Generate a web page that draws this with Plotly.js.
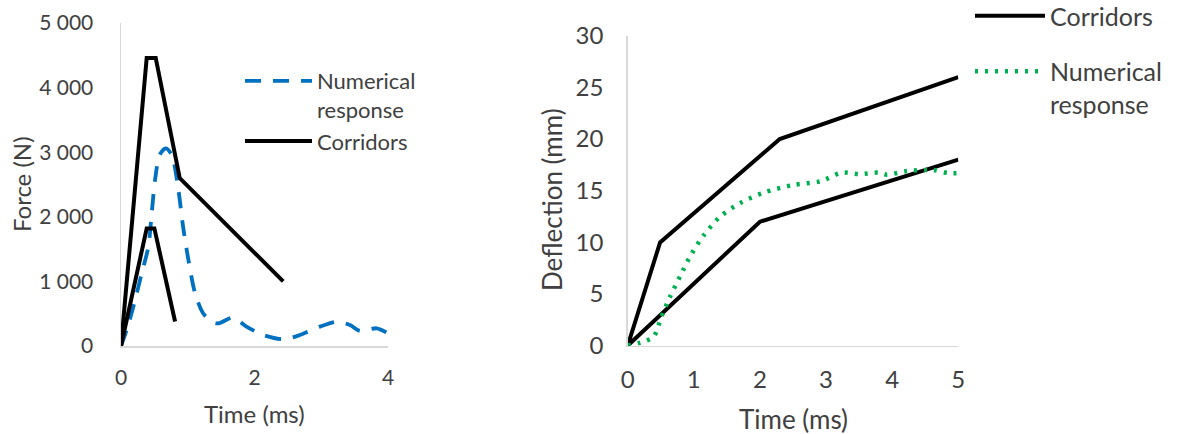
<!DOCTYPE html>
<html>
<head>
<meta charset="utf-8">
<script src="https://cdn.plot.ly/plotly-3.0.1.min.js"></script>
<style>html,body{margin:0;padding:0;background:#fff}#chart{width:1180px;height:434px}</style>
</head>
<body>
<div id="chart"></div>
<script>
// ---- Left chart: Force vs Time ----
const forceNumX = [0, 0.085, 0.185, 0.31, 0.41, 0.46, 0.51, 0.58, 0.67, 0.76, 0.86, 0.93, 1.01, 1.11, 1.23, 1.36, 1.46, 1.68, 1.88, 2.13, 2.43, 2.68, 2.98, 3.23, 3.43, 3.58, 3.83, 4.0];
const forceNumY = [0, 248, 608, 1125, 1537, 2054, 2570, 2957, 3060, 2957, 2415, 1847, 1331, 816, 506, 376, 351, 440, 300, 170, 104, 170, 300, 376, 325, 232, 274, 196];
const forceUpperX = [0, 0.385, 0.52, 0.88, 2.43];
const forceUpperY = [0, 4460, 4460, 2600, 1000];
const forceLowerX = [0, 0.385, 0.5, 0.81];
const forceLowerY = [0, 1820, 1820, 380];
const forceTickVals = [0, 1000, 2000, 3000, 4000, 5000];
const forceTickText = ['0', '1 000', '2 000', '3 000', '4 000', '5 000'];
const timeTicksLeft = [0, 2, 4];

// ---- Right chart: Deflection vs Time ----
const deflNumX = [0, 0.19, 0.39, 0.51, 0.64, 0.79, 0.94, 1.14, 1.40, 1.70, 2.05, 2.50, 2.91, 3.24, 3.51, 3.79, 3.92, 4.22, 4.62, 4.85, 5.0];
const deflNumY = [0, 0.3, 0.87, 2.8, 4.74, 6.68, 8.6, 10.6, 12.5, 13.8, 14.8, 15.55, 15.9, 16.75, 16.6, 16.75, 16.55, 16.9, 17.0, 16.7, 16.7];
const deflUpperX = [0, 0.49, 2.3, 5];
const deflUpperY = [0, 10, 20, 26];
const deflLowerX = [0, 2, 5];
const deflLowerY = [0, 12, 18];
const deflTickVals = [0, 5, 10, 15, 20, 25, 30];
const timeTicksRight = [0, 1, 2, 3, 4, 5];

const names = {num: 'Numerical<br>response', cor: 'Corridors'};
const textColor = '#404040';
const FONT = 'Lato, "Open Sans", sans-serif';

function joinGap(ax, ay, bx, by) {
  return {x: ax.concat([null], bx), y: ay.concat([null], by)};
}
const leftCor = joinGap(forceUpperX, forceUpperY, forceLowerX, forceLowerY);
const rightCor = joinGap(deflUpperX, deflUpperY, deflLowerX, deflLowerY);

const traces = [
  {x: forceNumX, y: forceNumY, type: 'scatter', mode: 'lines', name: names.num,
   line: {color: '#0070C0', width: 3.8, dash: '16px,12px', shape: 'spline', smoothing: 0.8},
   xaxis: 'x', yaxis: 'y', legend: 'legend', legendgroup: 'a'},
  {x: leftCor.x, y: leftCor.y, type: 'scatter', mode: 'lines', name: names.cor,
   line: {color: '#000000', width: 4}, connectgaps: false,
   xaxis: 'x', yaxis: 'y', legend: 'legend', legendgroup: 'b'},
  {x: rightCor.x, y: rightCor.y, type: 'scatter', mode: 'lines', name: names.cor,
   line: {color: '#000000', width: 4}, connectgaps: false,
   xaxis: 'x2', yaxis: 'y2', legend: 'legend2', legendgroup: 'c'},
  {x: deflNumX, y: deflNumY, type: 'scatter', mode: 'lines', name: names.num,
   line: {color: '#00B050', width: 4.5, dash: '3px,7px', shape: 'spline', smoothing: 0.8},
   xaxis: 'x2', yaxis: 'y2', legend: 'legend2', legendgroup: 'd'}
];

const W = 1180, H = 434;
const axCommon = {
  showgrid: false, zeroline: false, showline: true, linecolor: '#D9D9D9', linewidth: 1.5,
  ticks: 'outside', tickcolor: 'rgba(0,0,0,0)', fixedrange: true
};

const layout = {
  width: W, height: H,
  margin: {l: 0, r: 0, t: 0, b: 0, autoexpand: false},
  paper_bgcolor: '#ffffff', plot_bgcolor: '#ffffff',
  font: {family: FONT, color: textColor},
  showlegend: true,
  xaxis: Object.assign({}, axCommon, {
    domain: [121 / W, 388 / W], range: [0, 4], tickvals: timeTicksLeft,
    ticklen: 12, tickfont: {size: 21, color: textColor}, anchor: 'y'
  }),
  yaxis: Object.assign({}, axCommon, {
    domain: [1 - 346 / H, 1 - 23 / H], range: [0, 5000], tickvals: forceTickVals, ticktext: forceTickText,
    ticklen: 22, tickfont: {size: 21, color: textColor}, anchor: 'x'
  }),
  xaxis2: Object.assign({}, axCommon, {
    domain: [627.7 / W, 958.3 / W], range: [0, 5], tickvals: timeTicksRight,
    ticklen: 12, tickfont: {size: 24, color: textColor}, anchor: 'y2'
  }),
  yaxis2: Object.assign({}, axCommon, {
    domain: [1 - 345.7 / H, 1 - 35.7 / H], range: [0, 30], tickvals: deflTickVals,
    ticklen: 18, tickfont: {size: 24, color: textColor}, anchor: 'x2'
  }),
  legend: {
    x: 240 / W, xanchor: 'left', y: 1 - 60 / H, yanchor: 'top', valign: 'top',
    bgcolor: 'rgba(0,0,0,0)', font: {size: 22, color: textColor},
    itemwidth: 67, tracegroupgap: 0, traceorder: 'grouped'
  },
  legend2: {
    x: 970 / W, xanchor: 'left', y: 1 + 7 / H, yanchor: 'top', valign: 'top',
    bgcolor: 'rgba(0,0,0,0)', font: {size: 25, color: textColor},
    itemwidth: 70, tracegroupgap: 20, traceorder: 'grouped'
  },
  annotations: [
    {text: 'Force (N)', xref: 'paper', yref: 'paper', x: 22 / W, y: 1 - 184 / H,
     textangle: -90, showarrow: false, font: {size: 24, color: textColor}, xanchor: 'center', yanchor: 'middle'},
    {text: 'Time (ms)', xref: 'paper', yref: 'paper', x: 254 / W, y: 1 - 413 / H,
     showarrow: false, font: {size: 24, color: textColor}, xanchor: 'center', yanchor: 'middle'},
    {text: 'Deflection (mm)', xref: 'paper', yref: 'paper', x: 552 / W, y: 1 - 200 / H,
     textangle: -90, showarrow: false, font: {size: 26, color: textColor}, xanchor: 'center', yanchor: 'middle'},
    {text: 'Time (ms)', xref: 'paper', yref: 'paper', x: 793 / W, y: 1 - 419 / H,
     showarrow: false, font: {size: 26, color: textColor}, xanchor: 'center', yanchor: 'middle'}
  ]
};

Plotly.newPlot('chart', traces, layout, {staticPlot: true, displayModeBar: false});
</script>
</body>
</html>
